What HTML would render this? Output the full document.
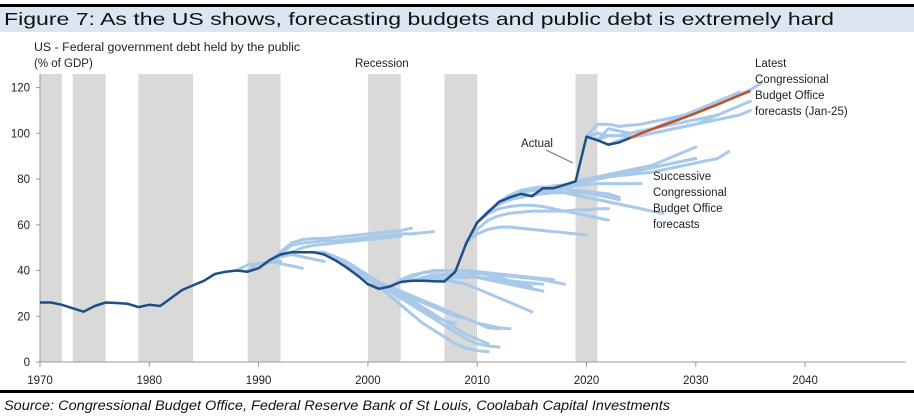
<!DOCTYPE html>
<html><head><meta charset="utf-8"><style>
body{margin:0;width:914px;height:420px;background:#fff;overflow:hidden;font-family:"Liberation Sans",Calibri,sans-serif}
svg{display:block}
text{font-family:"Liberation Sans",sans-serif}
</style></head><body>
<svg id="c" width="914" height="420">
<rect x="0" y="4" width="914" height="3" fill="#000"/>
<rect x="0" y="7" width="914" height="25" fill="#dce6f2"/>
<text x="4" y="25" font-size="17.5" fill="#111" textLength="830" lengthAdjust="spacingAndGlyphs">Figure 7: As the US shows, forecasting budgets and public debt is extremely hard</text>
<text x="34" y="51" font-size="11.5" fill="#222" textLength="266" lengthAdjust="spacingAndGlyphs">US - Federal government debt held by the public</text>
<text x="34" y="67" font-size="11.5" fill="#222">(% of GDP)</text>
<text x="355" y="67" font-size="11.5" fill="#222">Recession</text>
<g id="rec"></g><g id="axes"></g><g id="fc"></g><g id="act"></g>
<line x1="546" y1="150" x2="573" y2="163" stroke="#777" stroke-width="1"/>
<text x="521" y="147" font-size="11.5" fill="#222">Actual</text>
<g font-size="11.5" fill="#222">
<text x="653" y="180">Successive</text><text x="653" y="196">Congressional</text><text x="653" y="212">Budget Office</text><text x="653" y="228">forecasts</text></g>
<g font-size="11.5" fill="#222">
<text x="755" y="67">Latest</text><text x="755" y="83">Congressional</text><text x="755" y="99">Budget Office</text><text x="755" y="115">forecasts  (Jan-25)</text></g>
<rect x="0" y="390" width="914" height="3" fill="#000"/>
<text x="4" y="410" font-size="13.5" font-style="italic" fill="#111" textLength="666" lengthAdjust="spacingAndGlyphs">Source: Congressional Budget Office, Federal Reserve Bank of St Louis, Coolabah Capital Investments</text>
</svg>
<script>
const recStart=[1970,1973,1979,1989,2000,2007,2019];
const recEnd=[1972,1976,1984,1992,2003,2010,2021];
const xTicks=[1970,1980,1990,2000,2010,2020,2030,2040];
const yTicks=[0,20,40,60,80,100,120];
const actualYears=[1970,1971,1972,1973,1974,1975,1976,1977,1978,1979,1980,1981,1982,1983,1984,1985,1986,1987,1988,1989,1990,1991,1992,1993,1994,1995,1996,1997,1998,1999,2000,2001,2002,2003,2004,2005,2006,2007,2008,2009,2010,2011,2012,2013,2014,2015,2016,2017,2018,2019,2020,2021,2022,2023,2024];
const actualVals=[26,26,25,23.5,22,24.5,26,25.8,25.5,24,25,24.5,28,31.5,33.5,35.5,38.5,39.5,40,39.5,41,44.5,47,48,48,48,47,44.5,41.5,38,34,32,33,35,35.5,35.5,35.3,35.2,39.5,52,61,65.5,70,72,73.5,72.5,76,76,77.5,79,98.5,97,95,96,98];
const latestYears=[2024,2025,2026,2027,2028,2029,2030,2031,2032,2033,2034,2035];
const latestVals=[98,100,101.8,103.5,105.2,107,108.8,110.7,112.6,114.6,116.6,118.5];
const fcStart=[1988,1989,1990,1991,1992,1993,1995,1996,1997,1998,1999,2000,2002,2003,2004,2005,2006,2007,2004,2009,2009,2010,2010,2011,2012,2013,2014,2015,2016,2017,2018,2019,2019,2020,2021,2021,2022,2020];
const fcVals=[
[40,42.5,43,43.5,44],
[40,43,44,43,42,41],
[41,44,46,47,46,45,44],
[44.5,48,52,53.5,54,54,54.5,55,55.5,56,56.5,57,57.5,58.5],
[47,51,52,52.5,53,53,53.5,54,54.5,55,55.5,56,56,56.5,57],
[48,50,51,51.5,52,52.5,53,53.5,54,54.5,55],
[48,48,46,44,41,37,33,29,25,21,17,14,11,8,6,5,4.5],
[47,46,44,41,38,35,32,29,26,23,20,18,17],
[44.5,43,40,37,34,31,28,25,22,19,16,13,10,8,7,6.5],
[41.5,39,37,35,33,31,29,27,25,23,21,19,17,15,14.5],
[38,36,34,32,30,28,26,24,22,20,19,17,16,15,14.5],
[34,33,31,29,27,24,21,18,15,12,10,8],
[33,36,38,39,39.5,40,40,39.5,39,38,37,35.5,34,33],
[35,37,39,40,40,40,40,39.5,39,38.5,38,37.5,37,36.5,36],
[35.5,37,38,38.5,38.5,38,37,36,35,34,33,32,31],
[35.5,37,38,38,37.5,37,36,35,34,33,32,31],
[35.3,36.5,37,37,37,36.5,36,35.5,35,34.5,34],
[35.2,37,38,38.5,38.5,38,37.5,37,36.5,36,35,34],
[35.5,36,36.5,36,35,34,32,30,28,26,24,22],
[52,58,62,64,65,65.5,66,66,66,66,66.5,66.5,67,67],
[52,56,58,59,59,58.5,58,57.5,57,56.5,56,55.5],
[61,66,69,71,72,73,73.5,74,74,74,74,73.5,73],
[61,65,67,68,68.5,68.5,68,67,66,65,64,63,62],
[65.5,70,73,74,75,75,74.5,74,73,72,71,70,69,68],
[70,73,75,76,76.5,76,75.5,75,74.5,74,73.5,72],
[72,74,75,75.5,75,74,73,72,71,70,69,68,67,66,65],
[73.5,75,76,76.5,76,75,74,73,72,71],
[72.5,74,75,76,77,77.5,78,78,78,78,78],
[76,77,77.5,78,79,80,81,82,83,84,85,86],
[76,77,78,79,80,81,82,83,84,85,86,87,88,89],
[77.5,78,79,80,81,82,83,84,85,86,87,88,89],
[79,80,81,82,83,84,85,86,88,90,92,94],
[79,80,80.5,81,81.5,82,82.5,83,84,85,86,87,88,89,92],
[98.5,104,104,103,103.5,104,105,106,107,108,110,111,113,115,117,119,122],
[97,102,101,100,101,102,104,106,108,110,112,114,116,118],
[97,99,99,98.5,99,100,101,102,103,104,106,108],
[95,97,98,99,100,101,102,103,104,105,106,107,108,110],
[98.5,100,99,99,100,101,102,103,104,105,106,107,108,110,112,114]];
const NS='http://www.w3.org/2000/svg';
const X=y=>40+(y-1970)*10.93;
const Y=v=>362-v*2.287;
function mk(tag,at,parent){const e=document.createElementNS(NS,tag);for(const k in at)e.setAttribute(k,at[k]);document.getElementById(parent).appendChild(e);return e;}
recStart.forEach((s,i)=>{const r=mk('rect',{x:X(s),y:74,width:X(recEnd[i])-X(s),height:362-74,fill:'#d9d9d9'},'rec');

});
const ax=mk('line',{x1:40,y1:362,x2:906,y2:362,stroke:'#999','stroke-width':1},'axes');


const ay=mk('line',{x1:40,y1:74,x2:40,y2:362,stroke:'#999','stroke-width':1},'axes');


xTicks.forEach(t=>{mk('line',{x1:X(t),y1:362,x2:X(t),y2:367,stroke:'#999'},'axes');
const tx=mk('text',{x:X(t),y:384,'font-size':11.5,'text-anchor':'middle',fill:'#222'},'axes');tx.textContent=t;

});
yTicks.forEach(t=>{mk('line',{x1:36,y1:Y(t),x2:40,y2:Y(t),stroke:'#999'},'axes');
const tx=mk('text',{x:30,y:Y(t)+4,'font-size':11.5,'text-anchor':'end',fill:'#222'},'axes');tx.textContent=t;

});
const pts=(ys,vs)=>vs.map((v,i)=>X(ys[i]).toFixed(1)+','+Y(v).toFixed(1)).join(' ');
fcStart.forEach((s,i)=>{const ys=fcVals[i].map((_,j)=>s+j);
const p=mk('polyline',{points:pts(ys,fcVals[i]),fill:'none',stroke:'#a9c9ea','stroke-width':3,'stroke-linejoin':'round','stroke-linecap':'round'},'fc');

});
const a=mk('polyline',{points:pts(actualYears,actualVals),fill:'none',stroke:'#1f4e85','stroke-width':2.5,'stroke-linejoin':'round'},'act');


const l=mk('polyline',{points:pts(latestYears,latestVals),fill:'none',stroke:'#c0502a','stroke-width':2.5,'stroke-linejoin':'round'},'act');


</script>
</body></html>
